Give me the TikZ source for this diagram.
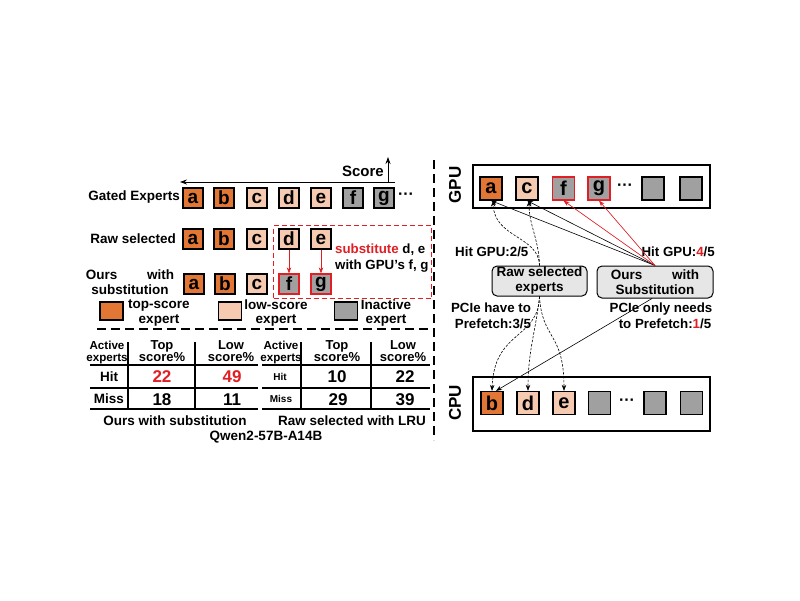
\documentclass[tikz,border=0pt]{standalone}
\usepackage{fontspec}
\setmainfont{Liberation Sans}
\usetikzlibrary{arrows.meta}
\definecolor{topc}{RGB}{226,118,52}
\definecolor{lowc}{RGB}{246,202,176}
\definecolor{inac}{RGB}{160,160,160}
\definecolor{myred}{RGB}{225,30,35}
\definecolor{rboxc}{RGB}{230,230,230}
\newcommand{\mydots}{\char"00B7\char"00B7\char"00B7}
\begin{document}
\begin{tikzpicture}[x=1pt,y=-1pt,
  ex/.style={draw, line width=1.3pt, minimum width=20pt, minimum height=20pt, inner sep=0pt, font=\bfseries\fontsize{19}{19}\selectfont},
  gx/.style={draw, line width=1.3pt, minimum width=22pt, minimum height=23pt, inner sep=0pt, font=\bfseries\fontsize{20}{20}\selectfont},
  topx/.style={fill=topc},
  lowx/.style={fill=lowc},
  inax/.style={fill=inac},
  redb/.style={draw=myred},
  lbl/.style={inner sep=0pt, font=\bfseries\fontsize{13.5}{14.5}\selectfont, align=center},
  sml/.style={inner sep=0pt, font=\bfseries\fontsize{13.3}{16}\selectfont, align=center},
  hdr/.style={inner sep=0pt, font=\bfseries\fontsize{13}{12.5}\selectfont, align=center},
  tiny/.style={inner sep=0pt, font=\bfseries\fontsize{11.6}{12}\selectfont, align=center},
  tinyr/.style={inner sep=0pt, font=\bfseries\fontsize{10}{12}\selectfont, align=center},
  num/.style={inner sep=0pt, font=\bfseries\fontsize{17}{17}\selectfont},
  leg/.style={draw, line width=1.3pt, minimum width=23pt, minimum height=18pt, inner sep=0pt},
  rbox/.style={draw, line width=1pt, fill=rboxc, rounded corners=5pt, inner sep=0pt, align=center, font=\bfseries\fontsize{13.5}{15}\selectfont},
  cont/.style={draw, line width=1.3pt, inner sep=0pt},
  tl/.style={line width=1.5pt},
  arr/.style={-{Stealth[length=6pt,width=4.5pt]}, line width=0.6pt},
  darr/.style={-{Stealth[length=6pt,width=4.5pt]}, line width=0.6pt, dash pattern=on 2.5pt off 1.5pt},
  rarr/.style={-{Stealth[length=6pt,width=4.5pt]}, line width=0.6pt, draw=myred, fill=myred},
  dotsx/.style={inner sep=0pt, font=\bfseries\fontsize{16}{16}\selectfont}
]
\useasboundingbox[fill=white] (0,0) rectangle (800,600);

% ---------------- left: score axis ----------------
\coordinate (axR) at (395,182);
\coordinate (axL) at (180,182);
\draw[-{Stealth[length=7pt,width=5pt]}, line width=0.8pt] (axR) -- (axL);
\coordinate (upB) at (388,182);
\coordinate (upT) at (388,157);
\draw[-{Stealth[length=7pt,width=5pt]}, line width=0.8pt] (upB) -- (upT);
\node[inner sep=0pt, font=\bfseries\fontsize{15}{15}\selectfont, anchor=east] (score) at (384,171) {Score};

% Gated experts row
\node[lbl, anchor=east] (lg) at (180,197) {Gated Experts};
\node[ex,topx] (ga) at (193,198) {a};
\node[ex,topx] (gb) at (224,198) {b};
\node[ex,lowx] (gc) at (257,198) {c};
\node[ex,lowx] (gd) at (289,198) {d};
\node[ex,lowx] (ge) at (321,198) {e};
\node[ex,inax] (gf) at (353,198) {f};
\node[ex,inax] (gg) at (384,198) {g};
\node[dotsx] (gdots) at (406,196) {\mydots};

% Raw selected row
\node[lbl, anchor=east] (lr) at (176,239) {Raw selected};
\node[ex,topx] (ra) at (193,239) {a};
\node[ex,topx] (rb) at (224,239) {b};
\node[ex,lowx] (rc) at (257,239) {c};
\node[ex,lowx] (rd) at (289,239) {d};
\node[ex,lowx] (re) at (321,239) {e};

% Ours row
\node[lbl] (lo) at (130,282) {Ours\hspace{2.2em}with\\substitution};
\node[ex,topx] (oa) at (194,284) {a};
\node[ex,topx] (ob) at (225,284) {b};
\node[ex,lowx] (oc) at (257,284) {c};
\node[ex,inax,redb] (of) at (289,284) {f};
\node[ex,inax,redb] (og) at (321,284) {g};

% red dashed substitution box
\node[draw=myred, line width=1pt, dash pattern=on 5pt off 3pt, minimum width=158pt, minimum height=73pt, inner sep=0pt, anchor=north west] (subbox) at (273,225) {};
\draw[rarr] (rd.south) -- (of.north);
\draw[rarr] (re.south) -- (og.north);
\node[sml, anchor=west] (sub1) at (335,250) {\textcolor{myred}{substitute} d, e};
\node[sml, anchor=west] (sub2) at (335,266) {with GPU’s f, g};

% legend
\node[leg,topx] (lgt) at (111.5,311) {};
\node[lbl] (lgtt) at (159,313) {top-score\\expert};
\node[leg,lowx] (lgl) at (230,311) {};
\node[lbl] (lglt) at (276,313) {low-score\\expert};
\node[leg,inax] (lgi) at (346,311) {};
\node[lbl] (lgit) at (386,313) {Inactive\\expert};

% separators
\draw[line width=2.2pt, dash pattern=on 9pt off 5pt] (97,329) -- (430,329);
\draw[line width=2.2pt, dash pattern=on 9pt off 5pt] (434,160) -- (434,440);

% ---------------- left table ----------------
\draw[tl] (90,365) -- (258,365);
\draw[tl] (90,388) -- (258,388);
\draw[tl] (90,409) -- (258,409);
\draw[tl] (128,342) -- (128,410);
\draw[tl] (195,342) -- (195,410);
\node[tiny] (t1h0) at (107,352) {Active\\experts};
\node[hdr] (t1h1) at (162,351) {Top\\score\%};
\node[hdr] (t1h2) at (231,351) {Low\\score\%};
\node[lbl] (t1r1) at (109,377) {Hit};
\node[lbl] (t1r2) at (109,399) {Miss};
\node[num, text=myred] (t1a) at (162,377) {22};
\node[num, text=myred] (t1b) at (232,377) {49};
\node[num] (t1c) at (162,400) {18};
\node[num] (t1d) at (232,400) {11};

% ---------------- right table ----------------
\draw[tl] (262,365) -- (430,365);
\draw[tl] (262,388) -- (430,388);
\draw[tl] (262,409) -- (430,409);
\draw[tl] (301,342) -- (301,410);
\draw[tl] (371,342) -- (371,410);
\node[tiny] (t2h0) at (281,352) {Active\\experts};
\node[hdr] (t2h1) at (337,351) {Top\\score\%};
\node[hdr] (t2h2) at (403,351) {Low\\score\%};
\node[tinyr] (t2r1) at (280,377) {Hit};
\node[tinyr] (t2r2) at (281,399) {Miss};
\node[num] (t2a) at (337,377) {10};
\node[num] (t2b) at (405,377) {22};
\node[num] (t2c) at (338,400) {29};
\node[num] (t2d) at (405,400) {39};

\node[lbl] (cap1) at (175,421) {Ours with substitution};
\node[lbl] (cap2) at (352,421) {Raw selected with LRU};
\node[lbl] (cap3) at (266,437) {Qwen2-57B-A14B};

% ---------------- right: GPU ----------------
\node[cont, minimum width=237pt, minimum height=43pt] (gpu) at (591.5,186.5) {};
\node[inner sep=0pt, rotate=90, font=\bfseries\fontsize{17}{17}\selectfont] (gpul) at (455,185) {GPU};
\node[gx,topx] (ua) at (491,188.5) {a};
\node[gx,lowx] (uc) at (527,188.5) {c};
\node[gx,inax,redb] (uf) at (563.5,188.5) {f};
\node[gx,inax,redb] (ug) at (599,188.5) {g};
\node[dotsx] (udots) at (625,187) {\mydots};
\node[gx,inax] (ux1) at (653,188.5) {};
\node[gx,inax] (ux2) at (691,188.5) {};

% CPU
\node[cont, minimum width=237pt, minimum height=54pt] (cpu) at (591.5,404) {};
\node[inner sep=0pt, rotate=90, font=\bfseries\fontsize{17}{17}\selectfont] (cpul) at (455,403) {CPU};
\node[gx,topx] (cb) at (492,403) {b};
\node[gx,lowx] (cd) at (528,403) {d};
\node[gx,lowx] (ce) at (564,403) {e};
\node[gx,inax] (cx1) at (599.5,403) {};
\node[dotsx] (cdots) at (627,402) {\mydots};
\node[gx,inax] (cx2) at (655,403) {};
\node[gx,inax] (cx3) at (691.5,403) {};

% rounded boxes
\node[rbox, minimum width=95pt, minimum height=30pt] (raw) at (539.5,281) {Raw selected\\experts};
\node[rbox, minimum width=116pt, minimum height=32pt] (ours) at (655,282) {Ours\hspace{2.2em}with\\Substitution};

% labels
\node[sml, anchor=west] (hit2) at (455,252) {Hit GPU:2/5};
\node[sml, anchor=east] (hit4) at (715,252) {Hit GPU:\textcolor{myred}{4}/5};
\node[sml] (pcie3) at (491,316) {PCIe have to\\\hspace*{0.3em}Prefetch:3/5};
\node[sml] (pcie1) at (661,316) {PCIe only needs\\\hspace*{0.6em}to Prefetch:\textcolor{myred}{1}/5};

% connectors from Ours
\draw[arr] (ours.north) -- (ua.south);
\draw[arr] (ours.north) -- (uc.south);
\draw[rarr] (ours.north) -- (uf.south);
\draw[rarr] (ours.north) -- (ug.south);
\draw[arr] ([xshift=-3pt]ours.south) -- ([xshift=4pt]cb.north);

% dashed curves from Raw
\draw[darr] (raw.north) .. controls (539,236) and (494,238) .. ([xshift=2pt]ua.south);
\draw[darr] (raw.north) .. controls (539,240) and (529,225) .. ([xshift=2pt]uc.south);
\draw[darr] (raw.south) .. controls (538,340) and (494,330) .. (cb.north);
\draw[darr] (raw.south) .. controls (536,330) and (528,350) .. (cd.north);
\draw[darr] (raw.south) .. controls (542,340) and (564,332) .. (ce.north);

\end{tikzpicture}
\end{document}
